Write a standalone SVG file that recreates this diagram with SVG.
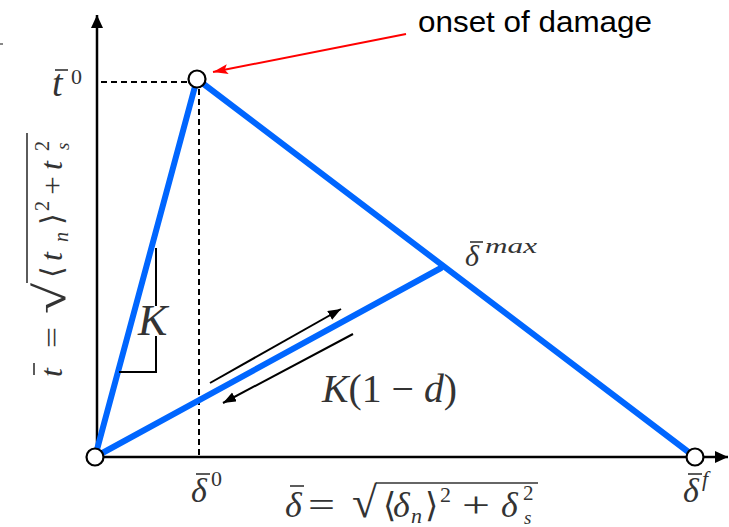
<svg xmlns="http://www.w3.org/2000/svg" width="729" height="527" viewBox="0 0 729 527">
<defs>
<style>
.ax{stroke:#000;stroke-width:2.5;fill:none}
.dash{stroke:#000;stroke-width:2;stroke-dasharray:6,4;fill:none}
.blue{stroke:#0066ff;stroke-width:6;fill:none;stroke-linecap:round}
.thin{stroke:#000;stroke-width:2;fill:none}
.node{fill:#fff;stroke:#000;stroke-width:2.2}
.m{font-family:"Liberation Serif","DejaVu Serif",serif;fill:#333}
.i{font-style:italic}
.bar{stroke:#333;stroke-width:1.6}
.sans{font-family:"Liberation Sans",Arial,sans-serif;fill:#000}
</style>
<marker id="ah" markerUnits="userSpaceOnUse" markerWidth="14" markerHeight="12" refX="13" refY="5" orient="auto">
<path d="M0,0 L13,5 L0,10 z" fill="#000"/>
</marker>
<marker id="axh" markerUnits="userSpaceOnUse" markerWidth="14" markerHeight="14" refX="13" refY="6" orient="auto">
<path d="M0,0 L13,6 L0,12 z" fill="#000"/>
</marker>
<marker id="rh" markerUnits="userSpaceOnUse" markerWidth="16" markerHeight="12" refX="15" refY="5" orient="auto">
<path d="M0,0 L15,5 L0,10 L3,5 z" fill="#f00"/>
</marker>
</defs>
<rect width="729" height="527" fill="#fff"/>
<rect x="0" y="43" width="3" height="2" fill="#888"/>

<g id="connectors">
<line class="ax" x1="97" y1="460" x2="97" y2="15" marker-end="url(#axh)"/>
<line class="ax" x1="95" y1="457" x2="728" y2="457" marker-end="url(#axh)"/>
<line class="dash" x1="101" y1="82" x2="190" y2="82"/>
<line class="dash" x1="199" y1="89" x2="199" y2="456"/>
<line class="blue" x1="95" y1="457" x2="197" y2="79"/>
<line class="blue" x1="197" y1="79" x2="695" y2="457"/>
<line class="blue" x1="95" y1="457" x2="441" y2="268"/>
<polyline class="thin" points="156,248 156,306"/>
<polyline class="thin" points="156,336 156,372 119,372"/>
<line class="thin" x1="210" y1="383" x2="341" y2="309" marker-end="url(#ah)"/>
<line class="thin" x1="353" y1="334" x2="223" y2="403" marker-end="url(#ah)"/>
<line x1="406" y1="34" x2="213" y2="72" stroke="#f00" stroke-width="2" marker-end="url(#rh)"/>
</g>

<g id="node-origin"><circle class="node" cx="95" cy="457" r="8.5"/></g>
<g id="node-peak"><circle class="node" cx="197" cy="79" r="8.5"/></g>
<g id="node-end"><circle class="node" cx="695" cy="457" r="8.5"/></g>

<g id="labels">
<text class="sans" x="418" y="32" font-size="30" textLength="234" lengthAdjust="spacingAndGlyphs">onset of damage</text>

<g id="t0">
<text class="m i" x="52" y="96" font-size="38">t</text>
<line class="bar" x1="55" y1="70" x2="68" y2="70"/>
<text class="m" x="71" y="84" font-size="22">0</text>
</g>

<text class="m i" x="138" y="335" font-size="44">K</text>

<text class="m" x="322" y="402" font-size="40" textLength="135" lengthAdjust="spacingAndGlyphs"><tspan class="i">K</tspan>(1 − <tspan class="i">d</tspan>)</text>

<g id="dmax">
<text class="m i" x="465" y="266" font-size="30">δ</text>
<line class="bar" x1="470" y1="242" x2="483" y2="242"/>
<text class="m i" x="485" y="253" font-size="21" textLength="52" lengthAdjust="spacingAndGlyphs">max</text>
</g>

<g id="d0">
<text class="m i" x="191" y="502" font-size="34">δ</text>
<line class="bar" x1="196" y1="474" x2="210" y2="474"/>
<text class="m" x="211" y="486" font-size="22">0</text>
</g>

<g id="df">
<text class="m i" x="683" y="502" font-size="34">δ</text>
<line class="bar" x1="688" y1="474" x2="702" y2="474"/>
<text class="m i" x="702" y="486" font-size="22">f</text>
</g>

<g id="xlabel">
<text class="m i" x="285" y="517" font-size="36">δ</text>
<line class="bar" x1="290" y1="486" x2="304" y2="486"/>
<text class="m" x="308" y="517" font-size="36" textLength="27" lengthAdjust="spacingAndGlyphs">=</text>
<text class="m" x="352" y="517" font-size="44" textLength="25" lengthAdjust="spacingAndGlyphs">√</text>
<line class="bar" x1="376" y1="483" x2="538" y2="483"/>
<text class="m" x="383" y="517" font-size="34">⟨</text>
<text class="m i" x="393" y="517" font-size="36">δ</text>
<text class="m i" x="411" y="523" font-size="22">n</text>
<text class="m" x="425" y="517" font-size="34">⟩</text>
<text class="m" x="440" y="502" font-size="22">2</text>
<text class="m" x="462" y="517" font-size="36" textLength="28" lengthAdjust="spacingAndGlyphs">+</text>
<text class="m i" x="501" y="517" font-size="36">δ</text>
<text class="m" x="523" y="500" font-size="21">2</text>
<text class="m i" x="524" y="524" font-size="19">s</text>
</g>

<g id="ylabel" transform="translate(62,380) rotate(-90)">
<text class="m i" x="3" y="0" font-size="32">t</text>
<line class="bar" x1="5" y1="-28" x2="17" y2="-28"/>
<text class="m" x="32" y="0" font-size="30" textLength="21" lengthAdjust="spacingAndGlyphs">=</text>
<text class="m" x="66" y="3" font-size="44" textLength="31" lengthAdjust="spacingAndGlyphs">√</text>
<line class="bar" x1="97" y1="-35" x2="247" y2="-35"/>
<text class="m" x="102" y="0" font-size="30">⟨</text>
<text class="m i" x="119" y="0" font-size="32">t</text>
<text class="m i" x="138" y="6" font-size="20">n</text>
<text class="m" x="155" y="0" font-size="30">⟩</text>
<text class="m" x="169" y="-13" font-size="20">2</text>
<text class="m" x="185" y="0" font-size="30" textLength="19" lengthAdjust="spacingAndGlyphs">+</text>
<text class="m i" x="210" y="0" font-size="32">t</text>
<text class="m" x="229" y="-13" font-size="20">2</text>
<text class="m i" x="230" y="7" font-size="19">s</text>
</g>
</g>
</svg>
